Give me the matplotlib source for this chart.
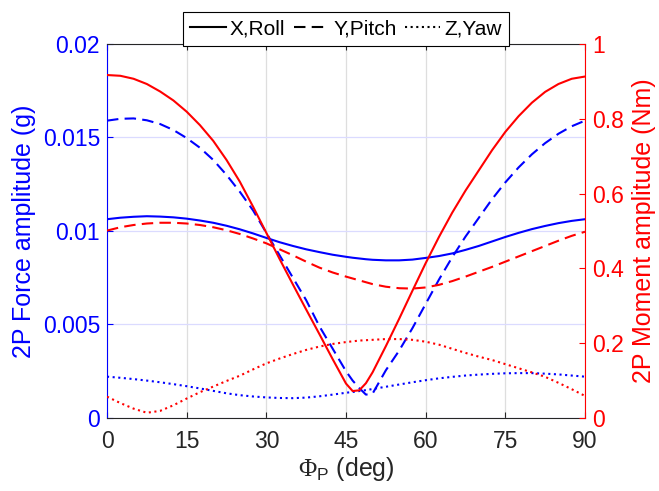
import matplotlib
matplotlib.use("Agg")
import matplotlib.pyplot as plt
from matplotlib.lines import Line2D

plt.rcParams['font.family'] = ['Liberation Sans', 'DejaVu Sans']
plt.rcParams['mathtext.fontset'] = 'custom'
plt.rcParams['mathtext.rm'] = 'Liberation Serif'
plt.rcParams['mathtext.sf'] = 'Liberation Sans'

# Phase angle (deg)
phi = [0, 2.5, 5, 7.5, 10, 12.5, 15, 17.5, 20, 22.5, 25, 27.5, 30, 32.5, 35, 37.5,
       40, 42.5, 45, 46.25, 47.5, 48.75, 50, 52.5, 55, 57.5, 60, 62.5, 65, 67.5,
       70, 72.5, 75, 77.5, 80, 82.5, 85, 87.5, 90]

# 2P force amplitude (g)
force_x = [0.01063, 0.01071, 0.01076, 0.01079, 0.01077, 0.01073, 0.01066, 0.01056,
           0.01044, 0.01028, 0.01009, 0.00987, 0.00963, 0.00940, 0.00920, 0.00902,
           0.00887, 0.00873, 0.00862, 0.00857, 0.00853, 0.00849, 0.00846, 0.00843,
           0.00843, 0.00847, 0.00856, 0.00866, 0.00880, 0.00899, 0.00920, 0.00944,
           0.00968, 0.00990, 0.01010, 0.01027, 0.01042, 0.01054, 0.01063]
force_y = [0.01590, 0.01600, 0.01602, 0.01592, 0.01572, 0.01540, 0.01497, 0.01445,
           0.01380, 0.01300, 0.01210, 0.01110, 0.00990, 0.00870, 0.00750, 0.00630,
           0.00490, 0.00370, 0.00250, 0.00200, 0.00160, 0.00125, 0.00130, 0.00255,
           0.00360, 0.00480, 0.00610, 0.00740, 0.00860, 0.00970, 0.01070, 0.01170,
           0.01260, 0.01340, 0.01410, 0.01470, 0.01520, 0.01560, 0.01590]
force_z = [0.00221, 0.00215, 0.00208, 0.00200, 0.00191, 0.00181, 0.00170, 0.00158,
           0.00145, 0.00132, 0.00122, 0.00115, 0.00110, 0.00107, 0.00106, 0.00109,
           0.00116, 0.00125, 0.00135, 0.00139, 0.00144, 0.00149, 0.00155, 0.00167,
           0.00179, 0.00191, 0.00202, 0.00212, 0.00220, 0.00227, 0.00232, 0.00236,
           0.00239, 0.00240, 0.00240, 0.00237, 0.00233, 0.00227, 0.00221]

# 2P moment amplitude (Nm)
moment_x = [0.917, 0.915, 0.907, 0.893, 0.873, 0.849, 0.819, 0.783, 0.741, 0.690,
            0.632, 0.565, 0.495, 0.425, 0.357, 0.290, 0.224, 0.157, 0.092, 0.072,
            0.074, 0.093, 0.122, 0.192, 0.265, 0.340, 0.414, 0.484, 0.549, 0.608,
            0.662, 0.716, 0.765, 0.807, 0.843, 0.872, 0.893, 0.907, 0.913]
moment_y = [0.501, 0.510, 0.516, 0.520, 0.522, 0.522, 0.520, 0.516, 0.510, 0.502,
            0.492, 0.480, 0.467, 0.451, 0.435, 0.418, 0.402, 0.389, 0.378, 0.373,
            0.368, 0.363, 0.358, 0.351, 0.347, 0.346, 0.349, 0.356, 0.366, 0.378,
            0.391, 0.404, 0.418, 0.432, 0.446, 0.460, 0.474, 0.487, 0.498]
moment_z = [0.057, 0.040, 0.025, 0.014, 0.019, 0.034, 0.052, 0.069, 0.084, 0.099,
            0.113, 0.130, 0.146, 0.159, 0.171, 0.182, 0.191, 0.198, 0.203, 0.205,
            0.207, 0.208, 0.209, 0.211, 0.211, 0.209, 0.204, 0.196, 0.185, 0.174,
            0.164, 0.155, 0.144, 0.133, 0.122, 0.110, 0.094, 0.077, 0.059]

legend_labels = ['X,Roll', 'Y,Pitch', 'Z,Yaw']
xticks = [0, 15, 30, 45, 60, 75, 90]
left_ticks = [0, 0.005, 0.01, 0.015, 0.02]
left_ticklabels = ['0', '0.005', '0.01', '0.015', '0.02']
right_ticks = [0, 0.2, 0.4, 0.6, 0.8, 1.0]
right_ticklabels = ['0', '0.2', '0.4', '0.6', '0.8', '1']

BLUE = (0, 0, 1)
RED = (1, 0, 0)
DARK = (0.15, 0.15, 0.15)
FS = 16.5
LFS = 18
LW = 1.5
DASH = (0, (5.5, 3))
DOT = (0, (1, 1.7))

fig = plt.figure(figsize=(6.59, 4.91), dpi=100)
ax = fig.add_axes([0.1624, 0.1487, 0.7253, 0.7617])
ax2 = ax.twinx()

ax.plot(phi, force_x, color=BLUE, lw=LW, linestyle='-')
ax.plot(phi, force_y, color=BLUE, lw=LW, linestyle=DASH)
ax.plot(phi, force_z, color=BLUE, lw=LW, linestyle=DOT)
ax2.plot(phi, moment_x, color=RED, lw=LW, linestyle='-')
ax2.plot(phi, moment_y, color=RED, lw=LW, linestyle=DASH)
ax2.plot(phi, moment_z, color=RED, lw=LW, linestyle=DOT)

ax.set_xlim(0, 90)
ax.set_ylim(0, 0.02)
ax2.set_ylim(0, 1)
ax.set_xticks(xticks)
ax.set_xticklabels([str(t) for t in xticks])
ax.set_yticks(left_ticks)
ax.set_yticklabels(left_ticklabels)
ax2.set_yticks(right_ticks)
ax2.set_yticklabels(right_ticklabels)

ax.xaxis.grid(True, color=(0.87, 0.87, 0.87), lw=0.9)
ax.yaxis.grid(True, color=(0.86, 0.86, 1.0), lw=0.9)
ax.set_axisbelow(True)

ax.tick_params(axis='x', direction='in', top=True, length=4, width=0.8,
               colors=DARK, labelsize=FS, pad=9)
ax.tick_params(axis='y', direction='in', length=4, width=0.8,
               colors=BLUE, labelsize=FS, pad=5)
ax2.tick_params(axis='y', direction='in', length=4, width=0.8,
                colors=RED, labelsize=FS, pad=5)

for s in ['top', 'bottom']:
    ax.spines[s].set_color(DARK)
    ax.spines[s].set_linewidth(0.8)
ax.spines['left'].set_color(BLUE)
ax.spines['right'].set_visible(False)
for s in ['left', 'top', 'bottom']:
    ax2.spines[s].set_visible(False)
ax2.spines['right'].set_color(RED)
ax.spines['left'].set_linewidth(0.8)
ax2.spines['right'].set_linewidth(0.8)

ax.set_xlabel(r'$\Phi_{\mathsf{P}}$ (deg)', fontsize=LFS, color=DARK, labelpad=1)
ax.set_ylabel('2P Force amplitude (g)', fontsize=LFS, color=BLUE, labelpad=5)
ax2.set_ylabel('2P Moment amplitude (Nm)', fontsize=LFS, color=RED, labelpad=6)

handles = [Line2D([], [], color='black', lw=LW, linestyle='-'),
           Line2D([], [], color='black', lw=LW, linestyle=DASH),
           Line2D([], [], color='black', lw=LW, linestyle=DOT)]
leg = ax2.legend(handles, legend_labels, loc='lower center', bbox_to_anchor=(0.5, 0.995),
                 ncol=3, fontsize=15, frameon=True, fancybox=False,
                 handlelength=1.7, handletextpad=0.2, columnspacing=0.4,
                 borderpad=0.35, borderaxespad=0.0)
leg.get_frame().set_edgecolor('black')
leg.get_frame().set_linewidth(0.8)
leg.get_frame().set_alpha(1)

fig.savefig('out.png', dpi=100)
